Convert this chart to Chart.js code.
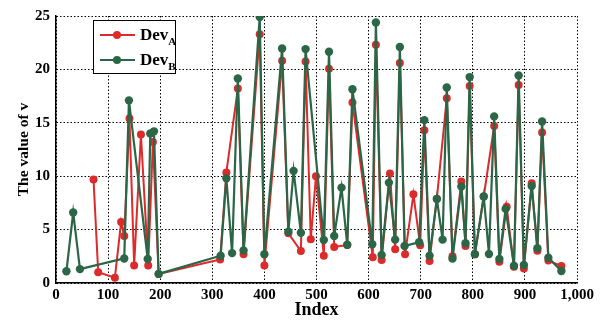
<!DOCTYPE html>
<html>
<head>
<meta charset="utf-8">
<script src="https://cdn.jsdelivr.net/npm/chart.js@4.4.0/dist/chart.umd.min.js"></script>
<style>
    body { margin: 0; background: #fff; }
    #wrap { position: relative; width: 602px; height: 321px; }
    #legend {
        position: absolute; left: 93px; top: 20px; width: 81px; height: 52px;
        border: 1.5px solid #000; background: #fff;
        font-family: "Liberation Serif", "Times New Roman", serif; font-weight: bold; font-size: 17px;
    }
    .row { position: absolute; left: 0; height: 20px; width: 100%; }
    .row .ln { position: absolute; left: 6px; top: 9px; width: 35px; height: 2px; }
    .row .dot { position: absolute; left: 19px; top: 6px; width: 8px; height: 8px; border-radius: 50%; }
    .row .txt { position: absolute; left: 46px; top: 0; line-height: 20px; }
    .row sub { font-size: 11px; vertical-align: -5px; }
</style>
</head>
<body>
<div id="wrap">
    <canvas id="chart" width="602" height="321"></canvas>
    <div id="legend">
        <div class="row" style="top:4px">
            <span class="ln" style="background:#dd2a2a"></span><span class="dot" style="background:#dd2a2a"></span>
            <span class="txt">Dev<sub>A</sub></span>
        </div>
        <div class="row" style="top:29px">
            <span class="ln" style="background:#2b6647"></span><span class="dot" style="background:#2b6647"></span>
            <span class="txt">Dev<sub>B</sub></span>
        </div>
    </div>
</div>
<script>
const idxA = [72, 81, 113, 125, 131, 141, 150, 163, 177, 186, 197, 315, 327, 349, 360, 391, 400, 434, 446, 470,
    479, 489, 499, 514, 524, 534, 559, 569, 608, 614, 625, 641, 651, 660, 670, 686, 699, 707, 717, 731,
    750, 761, 778, 786, 794, 804, 821, 841, 851, 865, 879, 888, 898, 913, 924, 933, 945, 970];
const valA = [9.7, 1.0, 0.5, 5.7, 4.4, 15.4, 1.65, 13.9, 1.65, 13.2, 0.85, 2.2, 10.35, 18.2, 2.7, 23.3, 1.65, 20.8, 4.65, 3.0,
    20.75, 4.1, 10.0, 2.56, 20.05, 3.37, 3.56, 16.9, 2.4, 22.3, 2.15, 10.25, 3.15, 20.6, 2.69, 8.3, 3.53, 14.3, 2.06, 7.9,
    17.3, 2.5, 9.5, 3.47, 18.45, 2.7, 8.1, 14.7, 2.0, 7.15, 1.53, 18.55, 1.35, 9.35, 3.03, 14.1, 2.1, 1.6];

const idxB = [20, 33, 46, 131, 140, 176, 181, 188, 197, 316, 327, 338, 349, 360, 391, 400, 434, 446, 456, 470,
    479, 514, 524, 534, 548, 559, 569, 607, 614, 625, 639, 651, 660, 669, 697, 707, 717, 731, 742, 750,
    761, 778, 786, 794, 804, 821, 831, 841, 851, 863, 879, 888, 898, 913, 924, 933, 945, 970];
const valB = [1.1, 6.6, 1.3, 2.3, 17.1, 2.25, 14.0, 14.2, 0.85, 2.55, 9.8, 2.8, 19.15, 3.05, 24.9, 2.7, 21.95, 4.8, 10.5, 4.7,
    21.9, 4.03, 21.65, 4.4, 8.93, 3.58, 18.15, 3.63, 24.4, 2.62, 9.4, 4.06, 22.1, 3.47, 3.81, 15.25, 2.56, 7.87, 4.06, 18.3,
    2.28, 9.03, 3.72, 19.28, 2.7, 8.1, 2.72, 15.6, 2.25, 6.94, 1.62, 19.43, 1.69, 9.09, 3.25, 15.12, 2.37, 1.12];

const xTicks = [0, 100, 200, 300, 400, 500, 600, 700, 800, 900, 1000];
const yTicks = [0, 5, 10, 15, 20, 25];

const RED = '#dd2a2a';
const GREEN = '#2b6647';
const serif = '"Liberation Serif", "Times New Roman", serif';

function toPoints(xs, ys) {
    return xs.map((x, i) => ({ x: x, y: ys[i] }));
}

const axisBase = {
    grid: { color: '#000', lineWidth: 1, drawTicks: false },
    border: { color: '#000', width: 1.5, dash: [1.5, 2] },
    ticks: { color: '#000', font: { family: serif, weight: 'bold', size: 15 } }
};

new Chart(document.getElementById('chart'), {
    type: 'line',
    data: {
        datasets: [
            {
                label: 'DevA',
                data: toPoints(idxA, valA),
                borderColor: RED,
                backgroundColor: RED,
                borderWidth: 2,
                pointRadius: 4,
                pointBorderWidth: 0,
                tension: 0,
                order: 1
            },
            {
                label: 'DevB',
                data: toPoints(idxB, valB),
                borderColor: GREEN,
                backgroundColor: GREEN,
                borderWidth: 2.2,
                pointRadius: 4.2,
                pointBorderWidth: 0,
                tension: 0,
                order: 0
            }
        ]
    },
    options: {
        responsive: false,
        animation: false,
        layout: { padding: { left: 0, right: 25, top: 16, bottom: 0 } },
        plugins: { legend: { display: false }, tooltip: { enabled: false } },
        scales: {
            x: {
                ...axisBase,
                type: 'linear',
                min: 0, max: 1000,
                afterBuildTicks: s => { s.ticks = xTicks.map(v => ({ value: v })); },
                afterFit: s => { s.height = 38; },
                ticks: { ...axisBase.ticks, padding: 3 },
                title: { display: true, text: 'Index', color: '#000', padding: { top: 2, bottom: 0 },
                    font: { family: serif, weight: 'bold', size: 18 } }
            },
            y: {
                ...axisBase,
                min: 0, max: 25,
                afterBuildTicks: s => { s.ticks = yTicks.map(v => ({ value: v })); },
                afterFit: s => { s.width = 56; },
                ticks: { ...axisBase.ticks, padding: 6 },
                title: { display: true, text: 'The value of v', color: '#000', padding: { top: 15, bottom: 0 },
                    font: { family: serif, weight: 'bold', size: 15.5 } }
            }
        }
    }
});
</script>
</body>
</html>
